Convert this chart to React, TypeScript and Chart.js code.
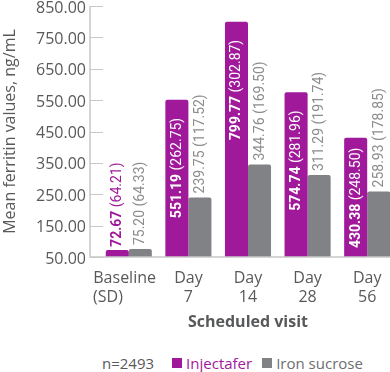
import React, { useEffect, useRef } from "react";
import { Chart, registerables } from "chart.js";

Chart.register(...registerables);

const categories: string[][] = [
  ["Baseline  ", "(SD)          "],
  ["Day", "7"],
  ["Day", "14"],
  ["Day", "28"],
  ["Day", "56"],
];
const injectafer = [72.67, 551.19, 799.77, 574.74, 430.38];
const injectaferSD = [64.21, 262.75, 302.87, 281.96, 248.5];
const ironSucrose = [75.2, 239.75, 344.76, 311.29, 258.93];
const ironSucroseSD = [64.33, 117.52, 169.5, 191.74, 178.85];
const yMin = 50;
const yMax = 850;
const yStep = 100;

const MAGENTA = "#A0199A";
const GRAY = "#808285";
const GRAY_TXT = "#8c8c8e";
const TXT = "#58595b";
const AXIS = "#c8c8c8";
const FONT = "'Open Sans', sans-serif";
const LABEL_FONT = "Roboto, sans-serif";

const axisPlugin = {
  id: "customAxis",
  afterDatasetsDraw(chart: any) {
    const { ctx, chartArea, scales } = chart;
    const axisX = chartArea.left - 9;
    ctx.save();
    ctx.strokeStyle = AXIS;
    ctx.lineWidth = 1.5;
    ctx.beginPath();
    ctx.moveTo(axisX, chartArea.top);
    ctx.lineTo(axisX, chartArea.bottom);
    ctx.lineTo(chartArea.right, chartArea.bottom);
    ctx.stroke();
    ctx.lineWidth = 1;
    ctx.beginPath();
    scales.y.ticks.forEach((t: any) => {
      const y = Math.round(scales.y.getPixelForValue(t.value)) + 0.5;
      ctx.moveTo(axisX, y);
      ctx.lineTo(axisX + 13, y);
    });
    ctx.stroke();
    ctx.restore();
  },
};

const labelPlugin = {
  id: "valueLabels",
  afterDatasetsDraw(chart: any) {
    const ctx = chart.ctx;
    const base = chart.scales.y.getPixelForValue(yMin);
    chart.data.datasets.forEach((ds: any, di: number) => {
      const meta = chart.getDatasetMeta(di);
      const sds = di === 0 ? injectaferSD : ironSucroseSD;
      meta.data.forEach((el: any, i: number) => {
        const v = (ds.data[i] as number).toFixed(2) + " ";
        const sd = "(" + sds[i].toFixed(2) + ")";
        const bold = di === 0 ? `bold 14px ${LABEL_FONT}` : `14px ${LABEL_FONT}`;
        const normal = `14px ${LABEL_FONT}`;
        ctx.save();
        ctx.font = bold;
        const w1 = ctx.measureText(v).width;
        ctx.font = normal;
        const w2 = ctx.measureText(sd).width;
        const w = w1 + w2;
        const top = el.y;
        let start: number;
        let color: string;
        if (di === 0) {
          const h = base - top;
          if (h >= w + 8) {
            let b = top + 18 + w;
            if (b > base - 9) b = base - 9;
            start = b;
            color = "#ffffff";
          } else {
            start = top - 3;
            color = MAGENTA;
          }
        } else {
          start = top - 4;
          color = GRAY_TXT;
        }
        ctx.translate(el.x + 0.5, start);
        ctx.rotate(-Math.PI / 2);
        ctx.textAlign = "left";
        ctx.textBaseline = "middle";
        ctx.fillStyle = color;
        ctx.font = bold;
        ctx.fillText(v, 0, 0);
        ctx.font = normal;
        ctx.fillText(sd, w1, 0);
        ctx.restore();
      });
    });
  },
};

export default function App() {
  const ref = useRef<HTMLCanvasElement>(null);
  useEffect(() => {
    const chart = new Chart(ref.current as HTMLCanvasElement, {
      type: "bar",
      data: {
        labels: categories,
        datasets: [
          {
            label: "Injectafer",
            data: injectafer,
            backgroundColor: MAGENTA,
            borderRadius: 2,
            barPercentage: 1,
            categoryPercentage: 0.773,
          },
          {
            label: "Iron sucrose",
            data: ironSucrose,
            backgroundColor: GRAY,
            borderRadius: 2,
            barPercentage: 1,
            categoryPercentage: 0.773,
          },
        ],
      },
      options: {
        responsive: false,
        animation: false,
        layout: { padding: { top: 6, right: 0, bottom: 0, left: 0 } },
        plugins: {
          legend: { display: false },
          tooltip: { enabled: false },
        },
        scales: {
          x: {
            grid: { display: false, drawTicks: false },
            border: { display: false },
            ticks: {
              padding: 12,
              color: TXT,
              font: { family: FONT, size: 16, lineHeight: 1.2 },
              maxRotation: 0,
              autoSkip: false,
            },
            title: {
              display: true,
              text: "Scheduled visit",
              color: TXT,
              font: { family: FONT, size: 16, weight: "bold" },
              padding: { top: 0, bottom: 8 },
            },
            afterFit: (s: any) => {
              s.height = 83;
            },
          },
          y: {
            min: yMin,
            max: yMax,
            grid: { display: false, drawTicks: false },
            border: { display: false },
            ticks: {
              stepSize: yStep,
              padding: 13,
              labelOffset: 2,
              color: TXT,
              font: { family: FONT, size: 16 },
              callback: (v: any) => Number(v).toFixed(2),
            },
            title: {
              display: true,
              text: "Mean ferritin values, ng/mL",
              color: TXT,
              font: { family: FONT, size: 16 },
              padding: { top: 1, bottom: 0 },
            },
            afterFit: (s: any) => {
              s.width = 99;
              s.paddingTop = 0;
              s.paddingBottom = 0;
            },
          },
        },
      },
      plugins: [axisPlugin, labelPlugin],
    });
    return () => chart.destroy();
  }, []);

  const sq = (c: string) => ({
    display: "inline-block",
    width: 10,
    height: 10,
    background: c,
    marginRight: 4,
  });

  return (
    <div
      style={{
        position: "absolute",
        left: 0,
        top: 0,
        width: 390,
        height: 372,
        overflow: "hidden",
        background: "#fff",
      }}
    >
      <canvas ref={ref} width={397} height={340} style={{ display: "block" }} />
      <div
        style={{
          position: "absolute",
          left: 102,
          top: 353,
          fontFamily: FONT,
          fontSize: 15,
          lineHeight: "20px",
          whiteSpace: "nowrap",
          display: "flex",
          alignItems: "center",
        }}
      >
        <span style={{ color: TXT, marginRight: 18 }}>n=2493</span>
        <span style={sq(MAGENTA)} />
        <span style={{ color: MAGENTA, marginRight: 10 }}>Injectafer</span>
        <span style={sq(GRAY)} />
        <span style={{ color: "#6d6e71" }}>Iron sucrose</span>
      </div>
    </div>
  );
}
